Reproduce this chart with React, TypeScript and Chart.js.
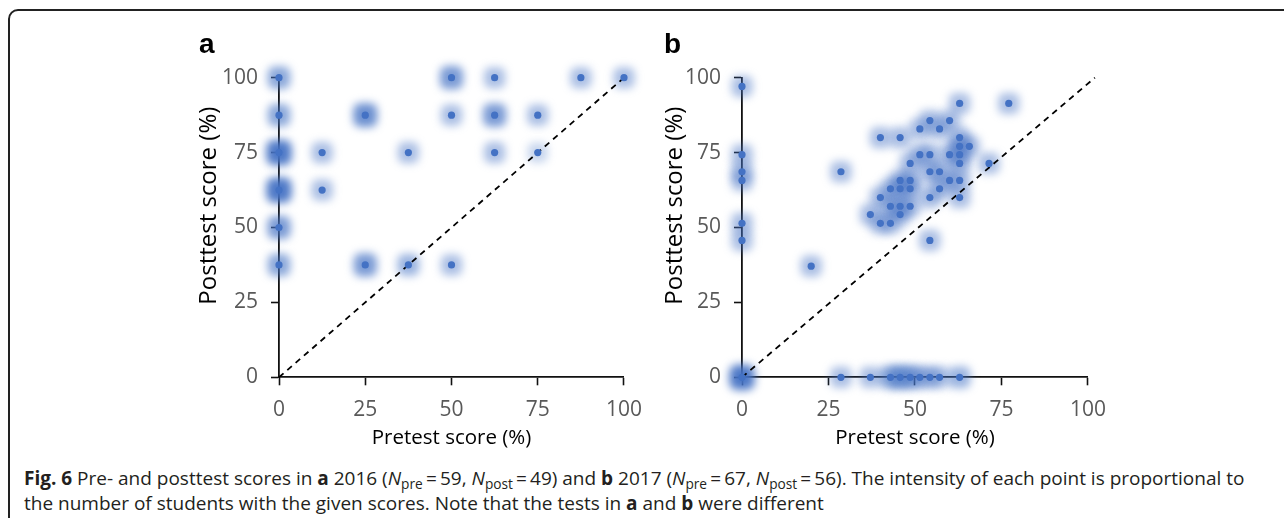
import React, { useEffect, useRef } from "react";
import { Chart, registerables } from "chart.js";

Chart.register(...registerables);

// ---------- DATA ----------
const AXIS_TICKS = [0, 25, 50, 75, 100];
const X_TITLE = "Pretest score (%)";
const Y_TITLE = "Posttest score (%)";

// Panel a (2016)
const preA = [0, 0, 0, 0, 0, 0, 12.5, 12.5, 25, 25, 37.5, 37.5, 50, 50, 50, 62.5, 62.5, 62.5, 75, 75, 87.5, 100];
const postA = [100, 87.5, 75, 62.5, 50, 37.5, 75, 62.5, 87.5, 37.5, 75, 37.5, 100, 87.5, 37.5, 100, 87.5, 75, 87.5, 75, 100, 100];
const intensityA = [2, 2, 4, 4, 2.5, 2, 1, 1, 3, 2.5, 1, 1.5, 2.5, 1, 1, 1, 2.5, 1, 1, 0.1, 1, 1];
const refXA = [0, 100];
const refYA = [0, 100];

// Panel b (2017)
const preB = [
  0, 0, 0, 0, 0, 0, 0,
  20.0,
  28.6, 28.6,
  37.1, 37.1,
  40.0, 40.0, 40.0,
  42.9, 42.9, 42.9, 42.9,
  45.7, 45.7, 45.7, 45.7, 45.7, 45.7,
  48.6, 48.6, 48.6, 48.6, 48.6,
  51.4, 51.4, 51.4,
  54.3, 54.3, 54.3, 54.3, 54.3, 54.3,
  57.1, 57.1, 57.1, 57.1,
  60.0, 60.0, 60.0,
  62.9, 62.9, 62.9, 62.9, 62.9, 62.9, 62.9, 62.9,
  65.7,
  71.4,
  77.1,
];
const postB = [
  97.1, 74.3, 68.6, 65.7, 51.4, 45.7, 0,
  37.1,
  68.6, 0,
  54.3, 0,
  80.0, 60.0, 51.4,
  62.9, 57.1, 51.4, 0,
  80.0, 65.7, 62.9, 57.1, 54.3, 0,
  71.4, 65.7, 62.9, 57.1, 0,
  82.9, 74.3, 0,
  85.7, 74.3, 68.6, 60.0, 45.7, 0,
  82.9, 68.6, 62.9, 0,
  85.7, 74.3, 65.7,
  91.4, 80.0, 77.1, 74.3, 71.4, 65.7, 60.0, 0,
  77.1,
  71.4,
  91.4,
];
const intensityB = [
  1, 1, 1, 1, 1, 1, 5,
  1,
  1, 1,
  1, 1,
  1, 1, 1,
  1, 1, 1, 2,
  1, 1, 1, 1, 1, 2,
  1, 1, 1, 1, 2,
  1, 1, 1,
  1, 1, 1, 1, 1, 1,
  1, 1, 1, 1,
  1, 1, 1,
  1, 1, 1, 1, 1, 1, 1, 1.5,
  1,
  1,
  1,
];
const refXB = [0, 102];
const refYB = [0, 100];

// ---------- STYLE ----------
const BLUE = "#4472C4";
const haloColor = (v: number) => `rgba(68,114,196,${Math.min(0.95, 0.28 + 0.17 * v)})`;
const haloRadius = (v: number) => 11.5 + Math.min(v, 4) * 0.8;

const haloPlugin = {
  id: "haloBlur",
  beforeDatasetDraw(chart: any, args: any) {
    const ds = chart.data.datasets[args.index];
    if (ds.halo) {
      chart.ctx.save();
      chart.ctx.filter = "blur(4px)";
    }
  },
  afterDatasetDraw(chart: any, args: any) {
    const ds = chart.data.datasets[args.index];
    if (ds.halo) chart.ctx.restore();
  },
};

type PanelProps = {
  pre: number[];
  post: number[];
  intensity: number[];
  refX: number[];
  refY: number[];
  left: number;
  top: number;
  width: number;
  height: number;
  pad: { left: number; top: number; right: number; bottom: number };
  yAxisWidth: number;
  xAxisHeight: number;
};

function Panel(p: PanelProps) {
  const ref = useRef<HTMLCanvasElement | null>(null);
  useEffect(() => {
    if (!ref.current) return;
    const pts = p.pre.map((x, i) => ({ x, y: p.post[i] }));
    const line = p.refX.map((x, i) => ({ x, y: p.refY[i] }));
    const tickFont = { family: "'Open Sans', sans-serif", size: 21 };
    const chart = new Chart(ref.current, {
      type: "scatter",
      data: {
        datasets: [
          {
            data: pts,
            pointRadius: 3.6,
            pointBackgroundColor: BLUE,
            pointBorderWidth: 0,
            clip: false,
          } as any,
          {
            data: line,
            showLine: true,
            borderColor: "#000",
            borderWidth: 1.8,
            borderDash: [6, 5],
            pointRadius: 0,
            clip: false,
          } as any,
          {
            halo: true,
            data: pts,
            pointStyle: "rectRounded",
            pointRadius: p.intensity.map(haloRadius),
            pointBackgroundColor: p.intensity.map(haloColor),
            pointBorderWidth: 0,
            clip: false,
          } as any,
        ],
      },
      options: {
        responsive: false,
        animation: false,
        events: [],
        layout: { padding: p.pad },
        plugins: { legend: { display: false }, tooltip: { enabled: false } },
        scales: {
          x: {
            type: "linear",
            min: 0,
            max: 100,
            afterBuildTicks: (s: any) => {
              s.ticks = AXIS_TICKS.map((v) => ({ value: v }));
            },
            afterFit: (s: any) => {
              s.height = p.xAxisHeight;
            },
            ticks: { font: tickFont, color: "#595959", padding: 12, maxRotation: 0 },
            grid: { display: true, drawOnChartArea: false, drawTicks: true, tickLength: 8, tickColor: "#111", tickWidth: 1.6 },
            border: { display: true, color: "#111", width: 1.8 },
            title: {
              display: true,
              text: X_TITLE,
              color: "#000",
              font: { family: "'Open Sans', sans-serif", size: 20.5 },
              padding: 0,
            },
          },
          y: {
            type: "linear",
            min: 0,
            max: 100,
            afterBuildTicks: (s: any) => {
              s.ticks = AXIS_TICKS.map((v) => ({ value: v }));
            },
            afterFit: (s: any) => {
              s.width = p.yAxisWidth;
            },
            ticks: { font: tickFont, color: "#595959", padding: 13 },
            grid: { display: true, drawOnChartArea: false, drawTicks: true, tickLength: 8, tickColor: "#111", tickWidth: 1.6 },
            border: { display: true, color: "#111", width: 1.8 },
            title: {
              display: true,
              text: "       " + Y_TITLE,
              color: "#000",
              font: { family: "'Open Sans', sans-serif", size: 24 },
              padding: 0,
            },
          },
        },
      },
      plugins: [haloPlugin],
    } as any);
    return () => chart.destroy();
  }, []);
  return (
    <canvas
      ref={ref}
      width={p.width}
      height={p.height}
      style={{ position: "absolute", left: p.left, top: p.top, width: p.width, height: p.height }}
    />
  );
}

const subStyle: React.CSSProperties = { fontSize: "0.72em", verticalAlign: "-0.28em", lineHeight: 0 };

function N({ s }: { s: string }) {
  return (
    <span>
      <i>N</i>
      <span style={subStyle}>{s}</span>
    </span>
  );
}

export default function App() {
  const capStyle: React.CSSProperties = {
    position: "absolute",
    left: 24,
    whiteSpace: "nowrap",
    fontFamily: "'Open Sans', sans-serif",
    fontSize: 19,
    lineHeight: "25px",
    color: "#231f20",
  };
  const panelLabel: React.CSSProperties = {
    position: "absolute",
    fontFamily: "'Liberation Sans', Arial, sans-serif",
    fontWeight: "bold",
    fontSize: 28,
    lineHeight: "28px",
    color: "#000",
  };
  return (
    <div
      style={{
        position: "absolute",
        left: 0,
        top: 0,
        width: 1284,
        height: 518,
        overflow: "hidden",
        background: "#fff",
      }}
    >
      <div
        style={{
          position: "absolute",
          left: 8,
          top: 9,
          width: 1320,
          height: 560,
          border: "2px solid #222",
          borderRadius: 10,
          boxSizing: "border-box",
        }}
      />
      <Panel
        pre={preA}
        post={postA}
        intensity={intensityA}
        refX={refXA}
        refY={refYA}
        left={150}
        top={40}
        width={504}
        height={420}
        pad={{ left: 44.6, top: 37.7, right: 30, bottom: 9.8 }}
        yAxisWidth={84.4}
        xAxisHeight={72.9}
      />
      <Panel
        pre={preB}
        post={postB}
        intensity={intensityB}
        refX={refXB}
        refY={refYB}
        left={613}
        top={40}
        width={505}
        height={420}
        pad={{ left: 48.1, top: 37.7, right: 30, bottom: 9.8 }}
        yAxisWidth={80.9}
        xAxisHeight={72.9}
      />
      <div style={{ ...panelLabel, left: 199, top: 30 }}>a</div>
      <div style={{ ...panelLabel, left: 664, top: 30 }}>b</div>
      <div style={{ ...capStyle, top: 465.5 }}>
        <b>Fig. 6</b> Pre- and posttest scores in <b>a</b> 2016 (<N s="pre" />{"\u2009=\u200959, "}
        <N s="post" />{"\u2009=\u200949) and "}<b>b</b> 2017 (<N s="pre" />{"\u2009=\u200967, "}
        <N s="post" />{"\u2009=\u200956). The intensity of each point is proportional to"}
      </div>
      <div style={{ ...capStyle, top: 490.5 }}>
        the number of students with the given scores. Note that the tests in <b>a</b> and <b>b</b> were different
      </div>
    </div>
  );
}
